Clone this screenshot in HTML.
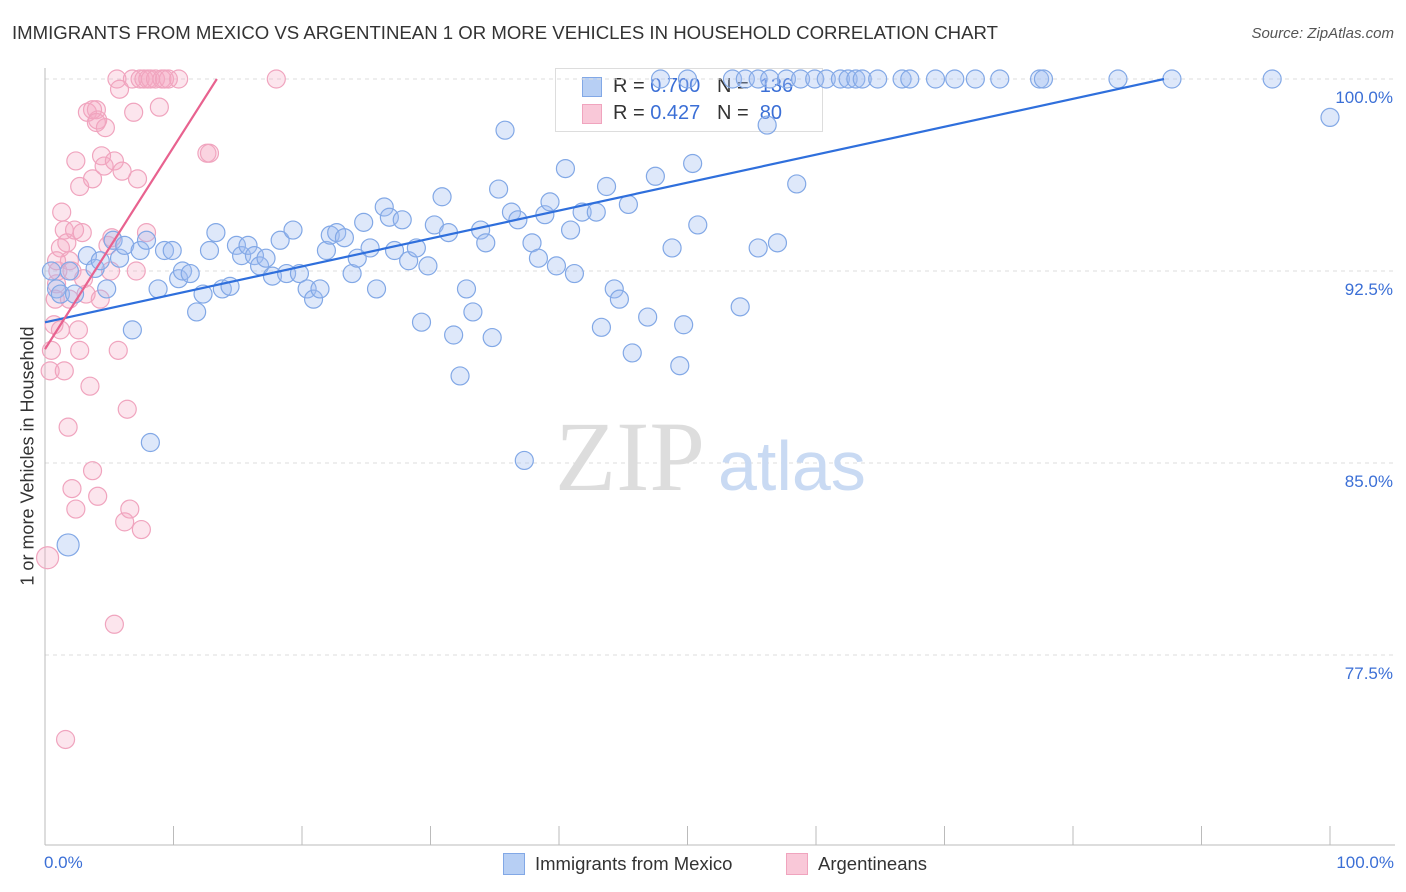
<!DOCTYPE html>
<html><head><meta charset="utf-8"><style>
body{margin:0;background:#fff;font-family:"Liberation Sans",sans-serif}
#wrap{position:relative;width:1406px;height:892px;overflow:hidden}
.t{position:absolute;white-space:nowrap}
</style></head><body><div id="wrap">
<div class="t" style="left:12px;top:22px;font-size:18.6px;color:#333">IMMIGRANTS FROM MEXICO VS ARGENTINEAN 1 OR MORE VEHICLES IN HOUSEHOLD CORRELATION CHART</div>
<div class="t" style="right:12px;top:25px;font-size:15px;color:#555;font-style:italic">Source: ZipAtlas.com</div>
<div class="t" style="left:555px;top:68px;width:266px;height:62px;border:1px solid #ddd;background:#fff">
<div class="t" style="left:26px;top:8px;width:18px;height:18px;background:#b7cff4;border:1px solid #82a8e6"></div>
<div class="t" style="left:57px;top:6px;font-size:20px;color:#333">R = <span style="color:#3b6fd6">0.700</span>&nbsp;&nbsp;&nbsp;N = &nbsp;<span style="color:#3b6fd6">136</span></div>
<div class="t" style="left:26px;top:35px;width:18px;height:18px;background:#f9c8d8;border:1px solid #f0a4be"></div>
<div class="t" style="left:57px;top:33px;font-size:20px;color:#333">R = <span style="color:#3b6fd6">0.427</span>&nbsp;&nbsp;&nbsp;N = &nbsp;<span style="color:#3b6fd6">80</span></div>
</div>
<svg id="svg" width="1406" height="892" style="position:absolute;left:0;top:0"></svg>
</div>
<script>
const blueX=[1.8,0.5,0.9,1.2,2.3,1.9,3.3,3.9,4.3,4.8,5.3,5.8,6.2,6.8,7.4,7.9,8.2,8.8,9.3,9.9,10.4,10.7,11.3,11.8,12.3,12.8,13.3,13.8,14.4,14.9,15.3,15.8,16.3,16.7,17.2,17.7,18.3,18.8,19.3,19.8,20.4,20.9,21.4,21.9,22.2,22.7,23.3,23.9,24.3,24.8,25.3,25.8,26.4,26.8,27.2,27.8,28.3,28.9,29.3,29.8,30.3,30.9,31.4,31.8,32.3,32.8,33.3,33.9,34.3,34.8,35.3,35.8,36.3,36.8,37.3,37.9,38.4,38.9,39.3,39.8,40.5,40.9,41.2,41.8,42.9,43.3,43.7,44.3,44.7,45.4,45.7,46.9,47.5,48.8,49.4,49.7,50.4,50.8,54.1,55.5,56.2,57.0,58.5,47.9,50.0,53.5,54.5,55.5,56.4,57.7,58.8,59.9,60.8,61.9,62.5,63.1,63.6,64.8,66.7,67.3,69.3,70.8,72.4,74.3,77.4,77.7,83.5,87.7,95.5,100];
const blueY=[81.8,92.5,91.8,91.6,91.6,92.5,93.1,92.6,92.9,91.8,93.7,93.0,93.5,90.2,93.3,93.7,85.8,91.8,93.3,93.3,92.2,92.5,92.4,90.9,91.6,93.3,94.0,91.8,91.9,93.5,93.1,93.5,93.1,92.7,93.0,92.3,93.7,92.4,94.1,92.4,91.8,91.4,91.8,93.3,93.9,94.0,93.8,92.4,93.0,94.4,93.4,91.8,95.0,94.6,93.3,94.5,92.9,93.4,90.5,92.7,94.3,95.4,94.0,90.0,88.4,91.8,90.9,94.1,93.6,89.9,95.7,98.0,94.8,94.5,85.1,93.6,93.0,94.7,95.2,92.7,96.5,94.1,92.4,94.8,94.8,90.3,95.8,91.8,91.4,95.1,89.3,90.7,96.2,93.4,88.8,90.4,96.7,94.3,91.1,93.4,98.2,93.6,95.9,100,100,100,100,100,100,100,100,100,100,100,100,100,100,100,100,100,100,100,100,100,100,100,100,100,100,98.5];
const pinkX=[0.2,0.4,0.5,0.7,0.8,0.9,1.0,1.2,1.3,1.5,1.7,1.9,2.1,2.3,2.4,2.7,2.9,3.0,3.2,3.3,3.5,3.7,4.0,4.1,4.3,4.4,4.6,4.7,4.9,5.1,5.2,5.4,5.6,5.7,5.8,6.0,6.2,6.4,6.6,6.8,6.9,7.1,7.2,7.4,7.5,7.7,7.9,8.0,8.2,8.6,8.9,9.1,9.3,9.6,10.4,12.6,12.8,18.0,5.4,1.6,1.8,2.1,2.4,3.7,4.1,2.6,2.7,1.5,1.2,0.9,1.9,3.7,4.0];
const pinkY=[81.3,88.6,89.4,90.4,91.4,92.0,92.5,93.4,94.8,94.1,93.6,92.9,92.5,94.1,96.8,95.8,94.0,92.2,91.6,98.7,88.0,96.1,98.8,98.4,91.4,97.0,96.6,98.1,93.5,92.5,93.8,96.8,100,89.4,99.6,96.4,82.7,87.1,83.2,100,98.7,92.5,96.1,100,82.4,100,94.0,100,100,100,98.9,100,100,100,100,97.1,97.1,100,78.7,74.2,86.4,84.0,83.2,84.7,83.7,90.2,89.4,88.6,90.2,92.9,91.4,98.8,98.3];
const yTicks=[100,92.5,85,77.5];
const yTickLabels=["100.0%","92.5%","85.0%","77.5%"];
const xTicks=[0,10,20,30,40,50,60,70,80,90,100];
const X=v=>45+v*12.85, Y=v=>79+(100-v)*25.6;
const svg=document.getElementById('svg');const NS='http://www.w3.org/2000/svg';
function mk(tag,at,name){const e=document.createElementNS(NS,tag);for(const k in at)e.setAttribute(k,at[k]);


svg.appendChild(e);return e;}
yTicks.forEach((v,i)=>{mk('line',{x1:45,x2:1395,y1:Y(v),y2:Y(v),stroke:'#ddd','stroke-dasharray':'4,4'},'gridline');
const t=mk('text',{x:1393,y:Y(v)+24,'text-anchor':'end','font-size':17,fill:'#3b6fd6','font-family':'Liberation Sans'},'y-tick-label');t.textContent=yTickLabels[i];});
mk('line',{x1:45,x2:45,y1:68,y2:845,stroke:'#bbb'},'y-axis');
mk('line',{x1:45,x2:1395,y1:845,y2:845,stroke:'#bbb'},'x-axis');
xTicks.forEach(v=>mk('line',{x1:X(v),x2:X(v),y1:826,y2:845,stroke:'#bbb'},'x-tick'));
let wt=mk('text',{x:555,y:490,'font-size':100,fill:'#ddd','font-family':'Liberation Serif'},'watermark-zip');wt.textContent='ZIP';
wt=mk('text',{x:718,y:490,'font-size':70,fill:'#c9daf3','font-family':'Liberation Sans'},'watermark-atlas');wt.textContent='atlas';
function dots(xs,ys,fill,stroke,name){const n=Math.min(xs.length,ys.length);for(let i=0;i<n;i++)mk('circle',{cx:X(xs[i]),cy:Y(ys[i]),r:(i==0?11:9),fill:fill,stroke:stroke,'stroke-width':1.2},name);}
dots(pinkX,pinkY,'rgba(245,170,195,0.3)','#f0a4be','point-argentineans');
dots(blueX,blueY,'rgba(160,190,240,0.35)','#82a8e6','point-mexico');
function fit(xs,ys){const n=Math.min(xs.length,ys.length);let sx=0,sy=0,sxx=0,sxy=0;for(let i=0;i<n;i++){sx+=xs[i];sy+=ys[i];sxx+=xs[i]*xs[i];sxy+=xs[i]*ys[i];}
const b=(n*sxy-sx*sy)/(n*sxx-sx*sx);return [b,(sy-b*sx)/n];}
function reg(xs,ys,col,name){const [b,a]=fit(xs,ys);let x2=Math.max(...xs);if(a+b*x2>100)x2=(100-a)/b;
mk('line',{x1:X(0),y1:Y(a),x2:X(x2),y2:Y(a+b*x2),stroke:col,'stroke-width':2.2},name);}
reg(blueX,blueY,'#2f6fdc','trend-mexico');
reg(pinkX,pinkY,'#e8628f','trend-argentineans');
</script>
<div class="t" style="left:44px;top:853px;font-size:17px;color:#3b6fd6">0.0%</div>
<div class="t" style="right:12px;top:853px;font-size:17px;color:#3b6fd6">100.0%</div>
<div class="t" style="left:503px;top:853px;width:20px;height:20px;background:#b7cff4;border:1px solid #82a8e6"></div>
<div class="t" style="left:535px;top:853px;font-size:18.5px;color:#333">Immigrants from Mexico</div>
<div class="t" style="left:786px;top:853px;width:20px;height:20px;background:#f9c8d8;border:1px solid #f0a4be"></div>
<div class="t" style="left:818px;top:853px;font-size:18.5px;color:#333">Argentineans</div>
<div class="t" style="left:28px;top:456px;font-size:18px;color:#333;transform:translate(-50%,-50%) rotate(-90deg)">1 or more Vehicles in Household</div>
</body></html>
